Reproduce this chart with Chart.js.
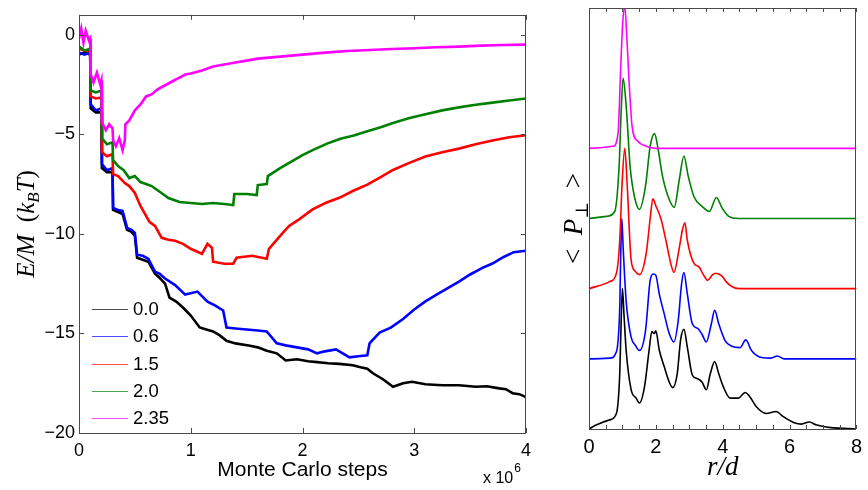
<!DOCTYPE html>
<html><head><meta charset="utf-8">
<script src="https://cdn.jsdelivr.net/npm/chart.js@4.4.0/dist/chart.umd.min.js"></script>
<style>
html,body{margin:0;padding:0;background:#fff;}
#wrap{position:relative;width:868px;height:490px;overflow:hidden;background:#fff;}
#left{position:absolute;left:0;top:0;}
#right{position:absolute;left:545px;top:0;}
</style></head><body>
<div id="wrap"><canvas id="left" width="545" height="490"></canvas><canvas id="right" width="323" height="490"></canvas></div>
<script>
// ---------- Left panel: energy per particle vs Monte Carlo steps (x in units of 10^6) ----------
const seriesNames = ['0.0', '0.6', '1.5', '2.0', '2.35'];
const seriesColors = ['#000000', '#0000ff', '#ff0000', '#008000', '#ff00ff'];

const steps00 = [0,0.05,0.1,0.105,0.15,0.2,0.205,0.25,0.3,0.305,0.35,0.39,0.43,0.47,0.5,0.52,0.57,0.62,0.68,0.72,0.77,0.81,0.87,0.93,1.0,1.08,1.14,1.2,1.26,1.32,1.4,1.53,1.6,1.68,1.77,1.85,1.95,2.05,2.13,2.23,2.33,2.45,2.52,2.58,2.63,2.72,2.81,2.9,2.98,3.1,3.25,3.4,3.55,3.65,3.76,3.82,3.88,3.94,4.0];
const energy00 = [-1.0,-0.9,-1.0,-3.7,-3.9,-3.9,-6.7,-6.9,-6.9,-8.8,-8.9,-9.0,-9.8,-9.9,-10.1,-11.2,-11.3,-11.4,-12.0,-12.2,-12.5,-13.2,-13.4,-13.7,-14.1,-14.7,-14.8,-14.9,-15.1,-15.37,-15.5,-15.62,-15.7,-15.87,-16.0,-16.36,-16.3,-16.4,-16.44,-16.5,-16.53,-16.6,-16.7,-16.77,-17.0,-17.3,-17.68,-17.5,-17.43,-17.55,-17.6,-17.6,-17.68,-17.65,-17.76,-17.8,-18.0,-18.05,-18.2];

const steps06 = [0,0.05,0.1,0.105,0.15,0.2,0.205,0.25,0.3,0.305,0.35,0.39,0.43,0.47,0.5,0.52,0.57,0.62,0.68,0.72,0.77,0.86,0.95,1.06,1.15,1.22,1.29,1.32,1.4,1.5,1.6,1.68,1.77,1.85,1.95,2.05,2.13,2.2,2.3,2.42,2.5,2.58,2.6,2.69,2.79,2.9,3.0,3.1,3.2,3.3,3.4,3.5,3.61,3.7,3.8,3.89,4.0];
const energy06 = [-0.9,-1.0,-0.9,-3.5,-3.8,-3.7,-6.5,-6.8,-6.7,-8.7,-8.8,-8.85,-9.7,-9.8,-9.95,-11.05,-11.1,-11.25,-11.9,-12.0,-12.24,-12.57,-13.05,-12.9,-13.4,-13.6,-13.85,-14.7,-14.75,-14.8,-14.85,-14.9,-15.5,-15.6,-15.7,-15.8,-16.0,-15.9,-15.8,-16.2,-16.15,-16.1,-15.5,-14.96,-14.71,-14.28,-13.8,-13.39,-13.05,-12.73,-12.4,-12.04,-11.71,-11.49,-11.16,-10.92,-10.85];

const steps15 = [0,0.05,0.1,0.105,0.15,0.2,0.205,0.25,0.3,0.305,0.35,0.41,0.45,0.5,0.55,0.59,0.63,0.68,0.74,0.8,0.86,0.93,1.0,1.1,1.15,1.19,1.2,1.3,1.38,1.41,1.55,1.68,1.7,1.8,1.88,1.97,2.09,2.21,2.33,2.45,2.58,2.7,2.81,2.95,3.1,3.25,3.4,3.55,3.7,3.85,4.0];
const energy15 = [-0.7,-0.8,-0.8,-3.1,-3.2,-3.15,-5.9,-6.1,-6.0,-7.0,-7.1,-7.45,-7.6,-7.95,-8.6,-9.0,-9.4,-9.6,-10.2,-10.3,-10.35,-10.5,-10.75,-11.0,-10.5,-10.7,-11.4,-11.5,-11.5,-11.2,-11.1,-11.25,-10.75,-10.1,-9.6,-9.27,-8.77,-8.44,-8.19,-7.85,-7.53,-7.15,-6.79,-6.45,-6.12,-5.9,-5.72,-5.5,-5.31,-5.15,-5.05];

const steps20 = [0,0.05,0.1,0.105,0.15,0.2,0.205,0.25,0.3,0.305,0.35,0.4,0.45,0.5,0.55,0.6,0.65,0.7,0.75,0.8,0.85,0.9,1.0,1.1,1.2,1.3,1.38,1.39,1.5,1.59,1.6,1.68,1.69,1.8,1.9,2.0,2.1,2.22,2.34,2.46,2.58,2.7,2.81,2.95,3.1,3.25,3.4,3.55,3.7,3.85,4.0];
const energy20 = [-0.6,-0.8,-0.7,-2.8,-2.9,-2.8,-5.2,-5.5,-5.4,-6.3,-6.6,-6.8,-7.2,-7.1,-7.4,-7.5,-7.6,-7.8,-8.0,-8.2,-8.3,-8.4,-8.45,-8.5,-8.45,-8.5,-8.55,-8.0,-8.0,-8.05,-7.55,-7.5,-7.1,-6.7,-6.37,-6.05,-5.77,-5.47,-5.22,-5.06,-4.85,-4.65,-4.43,-4.2,-3.99,-3.8,-3.65,-3.52,-3.41,-3.3,-3.2];

const steps235 = [0,0.02,0.04,0.06,0.09,0.1,0.105,0.13,0.16,0.19,0.2,0.205,0.24,0.27,0.3,0.305,0.33,0.36,0.39,0.41,0.415,0.45,0.5,0.55,0.6,0.65,0.7,0.75,0.8,0.85,0.9,0.95,1.0,1.1,1.2,1.3,1.4,1.5,1.6,1.7,1.8,1.9,2.0,2.2,2.4,2.6,2.8,3.0,3.2,3.4,3.6,3.8,4.0];
const energy235 = [-0.2,0.3,-0.4,0.2,-0.3,-0.2,-2.0,-2.4,-1.9,-2.5,-2.3,-4.4,-4.8,-4.5,-4.7,-5.3,-5.6,-5.2,-5.8,-5.3,-4.5,-4.3,-3.8,-3.5,-3.1,-3.0,-2.75,-2.6,-2.45,-2.3,-2.15,-2.0,-1.95,-1.8,-1.6,-1.5,-1.4,-1.3,-1.2,-1.15,-1.1,-1.05,-1.0,-0.9,-0.82,-0.77,-0.72,-0.68,-0.63,-0.6,-0.55,-0.52,-0.5];

const mcTickLabels = [0, 1, 2, 3, 4];
const energyTickLabels = [-20, -15, -10, -5, 0];

// ---------- Right panel: <P_perp> profiles vs r/d, stacked ----------
const rBlack = [0,0.23,0.62,0.82,0.92,0.96,1.0,1.05,1.11,1.26,1.41,1.51,1.66,1.8,1.88,1.95,2.0,2.1,2.25,2.4,2.5,2.64,2.74,2.84,2.94,3.09,3.23,3.38,3.51,3.63,3.76,3.88,4.02,4.22,4.47,4.67,4.81,5.0,5.3,5.6,5.8,6.14,6.35,6.59,6.79,7.23,8];
const pBlack = [0,0.06,0.13,0.22,0.79,1.5,2.0,1.6,1.13,0.56,0.44,0.37,0.6,1.13,1.39,1.36,1.4,1.13,0.89,0.67,0.59,0.79,1.27,1.42,1.17,0.77,0.72,0.67,0.56,0.79,0.96,0.79,0.6,0.44,0.44,0.52,0.46,0.32,0.22,0.25,0.18,0.09,0.07,0.10,0.06,0.02,0];
const rBlue = [0,0.62,0.82,0.92,0.95,0.98,1.02,1.11,1.26,1.39,1.51,1.69,1.83,1.92,2.0,2.1,2.25,2.4,2.54,2.67,2.77,2.84,2.94,3.09,3.26,3.38,3.51,3.66,3.76,3.88,4.07,4.27,4.52,4.69,4.86,5.16,5.45,5.63,5.84,8];
const pBlue = [0,0.01,0.1,0.74,1.5,2.0,1.6,0.83,0.31,0.19,0.12,0.4,1.12,1.21,1.19,0.93,0.64,0.36,0.24,0.55,1.07,1.23,0.93,0.5,0.43,0.35,0.24,0.5,0.69,0.5,0.26,0.18,0.16,0.27,0.12,0.02,0.01,0.04,0,0];
const rRed = [0,0.62,0.82,0.92,0.99,1.07,1.14,1.26,1.38,1.51,1.71,1.83,1.91,2.0,2.15,2.3,2.45,2.54,2.69,2.8,2.87,2.94,3.14,3.29,3.42,3.55,3.7,3.79,3.98,4.1,4.27,4.5,8];
const pRed = [0,0.1,0.22,0.69,1.5,2.0,1.5,0.41,0.25,0.2,0.5,1.0,1.28,1.18,1.0,0.69,0.35,0.23,0.55,0.85,0.94,0.69,0.36,0.31,0.2,0.12,0.2,0.22,0.18,0.1,0.03,0,0];
const rGreen = [0,0.52,0.77,0.9,0.96,1.02,1.12,1.23,1.36,1.51,1.69,1.83,1.96,2.07,2.2,2.4,2.55,2.7,2.84,2.97,3.14,3.39,3.6,3.81,3.98,4.18,4.47,8];
const pGreen = [0,0.03,0.1,0.74,1.5,2.0,1.55,0.74,0.31,0.13,0.46,1.03,1.21,0.98,0.6,0.27,0.16,0.55,0.89,0.6,0.31,0.17,0.1,0.3,0.15,0.03,0,0];
const rMagenta = [0,0.72,0.87,0.95,1.01,1.07,1.13,1.19,1.29,1.46,1.71,2.0,8];
const pMagenta = [0,0.03,0.22,1.17,1.8,2.02,1.6,1.03,0.31,0.1,0.03,0,0];
const profileOffsets = [0, 1, 2, 3, 4];
const rTickLabels = [0, 2, 4, 6, 8];
const rMinorTicks = [0,0.5,1,1.5,2,2.5,3,3.5,4,4.5,5,5.5,6,6.5,7,7.5,8];

// ---------- helpers ----------
const SANS = '"Liberation Sans", Arial, Helvetica, sans-serif';
const SERIF = '"Liberation Serif", "DejaVu Serif", "Times New Roman", serif';
const FRAME = '#4a4a4a';

function pairs(xs, ys, off) { return xs.map((x, i) => ({x: x, y: ys[i] + (off || 0)})); }

function drawFrame(chart, xTicks, yTicks, len) {
  const ctx = chart.ctx, a = chart.chartArea, sx = chart.scales.x, sy = chart.scales.y;
  ctx.save();
  ctx.strokeStyle = FRAME; ctx.lineWidth = 1;
  ctx.beginPath();
  xTicks.forEach(v => {
    const p = Math.round(sx.getPixelForValue(v)) + 0.5;
    ctx.moveTo(p, a.bottom); ctx.lineTo(p, a.bottom - len);
    ctx.moveTo(p, a.top); ctx.lineTo(p, a.top + len);
  });
  yTicks.forEach(v => {
    const p = Math.round(sy.getPixelForValue(v)) + 0.5;
    ctx.moveTo(a.left, p); ctx.lineTo(a.left + len, p);
    ctx.moveTo(a.right, p); ctx.lineTo(a.right - len, p);
  });
  ctx.stroke();
  ctx.strokeRect(Math.round(a.left) + 0.5, Math.round(a.top) + 0.5, Math.round(a.right - a.left) - 1, Math.round(a.bottom - a.top));
  ctx.restore();
}

// parts: [text, font, dy]
function drawRich(ctx, parts, cx, cy, rot) {
  ctx.save();
  ctx.translate(cx, cy);
  if (rot) ctx.rotate(rot);
  ctx.fillStyle = '#000';
  ctx.textBaseline = 'alphabetic';
  ctx.textAlign = 'left';
  let total = 0;
  parts.forEach(p => { ctx.font = p[1]; total += ctx.measureText(p[0]).width; });
  let x = -total / 2;
  parts.forEach(p => { ctx.font = p[1]; ctx.fillText(p[0], x, p[2]); x += ctx.measureText(p[0]).width; });
  ctx.restore();
}

const leftDecor = {
  id: 'leftDecor',
  afterDatasetsDraw(chart) {
    drawFrame(chart, mcTickLabels, energyTickLabels, 5);
    const ctx = chart.ctx, a = chart.chartArea;
    // legend
    ctx.save();
    seriesNames.forEach((name, i) => {
      const y = 309 + i * 27.3;
      ctx.strokeStyle = seriesColors[i]; ctx.globalAlpha = 0.7; ctx.lineWidth = 1;
      ctx.beginPath(); ctx.moveTo(a.left + 13, Math.round(y) + 0.5); ctx.lineTo(a.left + 49, Math.round(y) + 0.5); ctx.stroke();
      ctx.globalAlpha = 1;
      ctx.fillStyle = '#000'; ctx.font = '18.5px ' + SANS; ctx.textBaseline = 'middle'; ctx.textAlign = 'left';
      ctx.fillText(name, a.left + 54, y + 1);
    });
    // x title
    ctx.font = '21px ' + SANS; ctx.textAlign = 'center'; ctx.textBaseline = 'middle';
    ctx.fillText('Monte Carlo steps', (a.left + a.right) / 2, 470);
    // x 10^6
    ctx.textAlign = 'left';
    ctx.font = '16px ' + SANS; ctx.fillText('x 10', 483, 479);
    const w = ctx.measureText('x 10').width;
    ctx.font = '12px ' + SANS; ctx.fillText('6', 483 + w + 1, 469);
    ctx.restore();
    // y title E/M (k_B T)
    const it = 'italic 25px ' + SERIF, up = '25px ' + SERIF, sub = 'italic 17px ' + SERIF;
    drawRich(ctx, [['E/M', it, 0], ['  (', up, 0], ['k', it, 0], ['B', sub, 5], ['T', it, 0], [')', up, 0]], 34, (a.top + a.bottom) / 2, -Math.PI / 2);
  }
};

const rightDecor = {
  id: 'rightDecor',
  afterDatasetsDraw(chart) {
    drawFrame(chart, rMinorTicks, [], 4);
    const ctx = chart.ctx, a = chart.chartArea;
    const it = 'italic 27px ' + SERIF, up = '27px ' + SERIF, sub = '18px ' + SERIF;
    drawRich(ctx, [['r/d', it, 0]], (a.left + a.right) / 2, 475, 0);
    drawRich(ctx, [['<  ', up, 0], ['P', it, 0], ['\u22A5', sub, 6], ['  >', up, 0]], 37, (a.top + a.bottom) / 2, -Math.PI / 2);
  }
};

const leftSets = [[steps00, energy00], [steps06, energy06], [steps15, energy15], [steps20, energy20], [steps235, energy235]];
new Chart(document.getElementById('left'), {
  type: 'line',
  data: {
    datasets: leftSets.map((s, i) => ({
      label: seriesNames[i], data: pairs(s[0], s[1]), borderColor: seriesColors[i],
      borderWidth: 2.6, pointRadius: 0, tension: 0, order: seriesNames.length - i
    }))
  },
  options: {
    responsive: false, animation: false, events: [],
    layout: { padding: { top: 8, right: 19, left: 0, bottom: 0 } },
    plugins: { legend: { display: false }, tooltip: { enabled: false } },
    scales: {
      x: {
        type: 'linear', min: 0, max: 4,
        afterBuildTicks: s => { s.ticks = mcTickLabels.map(v => ({value: v})); },
        afterFit: s => { s.height = 57; },
        grid: { display: false, drawTicks: false }, border: { display: false },
        ticks: { color: '#000', font: { family: SANS, size: 18 }, padding: 7, maxRotation: 0, autoSkip: false }
      },
      y: {
        type: 'linear', min: -20, max: 1,
        afterBuildTicks: s => { s.ticks = energyTickLabels.map(v => ({value: v})); },
        afterFit: s => { s.width = 79; },
        grid: { display: false, drawTicks: false }, border: { display: false },
        ticks: { color: '#000', font: { family: SANS, size: 18 }, padding: 4,
          callback: v => String(v).replace('-', '\u2212') }
      }
    }
  },
  plugins: [leftDecor]
});

const rightSets = [[rBlack, pBlack], [rBlue, pBlue], [rRed, pRed], [rGreen, pGreen], [rMagenta, pMagenta]];
new Chart(document.getElementById('right'), {
  type: 'line',
  data: {
    datasets: rightSets.map((s, i) => ({
      label: seriesNames[i], data: pairs(s[0], s[1], profileOffsets[i]), borderColor: seriesColors[i],
      borderWidth: 1.6, pointRadius: 0, cubicInterpolationMode: 'monotone', order: seriesNames.length - i
    }))
  },
  options: {
    responsive: false, animation: false, events: [],
    layout: { padding: { top: 8, right: 8, left: 44, bottom: 0 } },
    plugins: { legend: { display: false }, tooltip: { enabled: false } },
    scales: {
      x: {
        type: 'linear', min: 0, max: 8,
        afterBuildTicks: s => { s.ticks = rTickLabels.map(v => ({value: v})); },
        afterFit: s => { s.height = 61; },
        grid: { display: false, drawTicks: false }, border: { display: false },
        ticks: { color: '#000', font: { family: SANS, size: 20 }, padding: 6, maxRotation: 0, autoSkip: false }
      },
      y: { type: 'linear', min: 0, max: 6, display: false }
    }
  },
  plugins: [rightDecor]
});
</script>
</body></html>
